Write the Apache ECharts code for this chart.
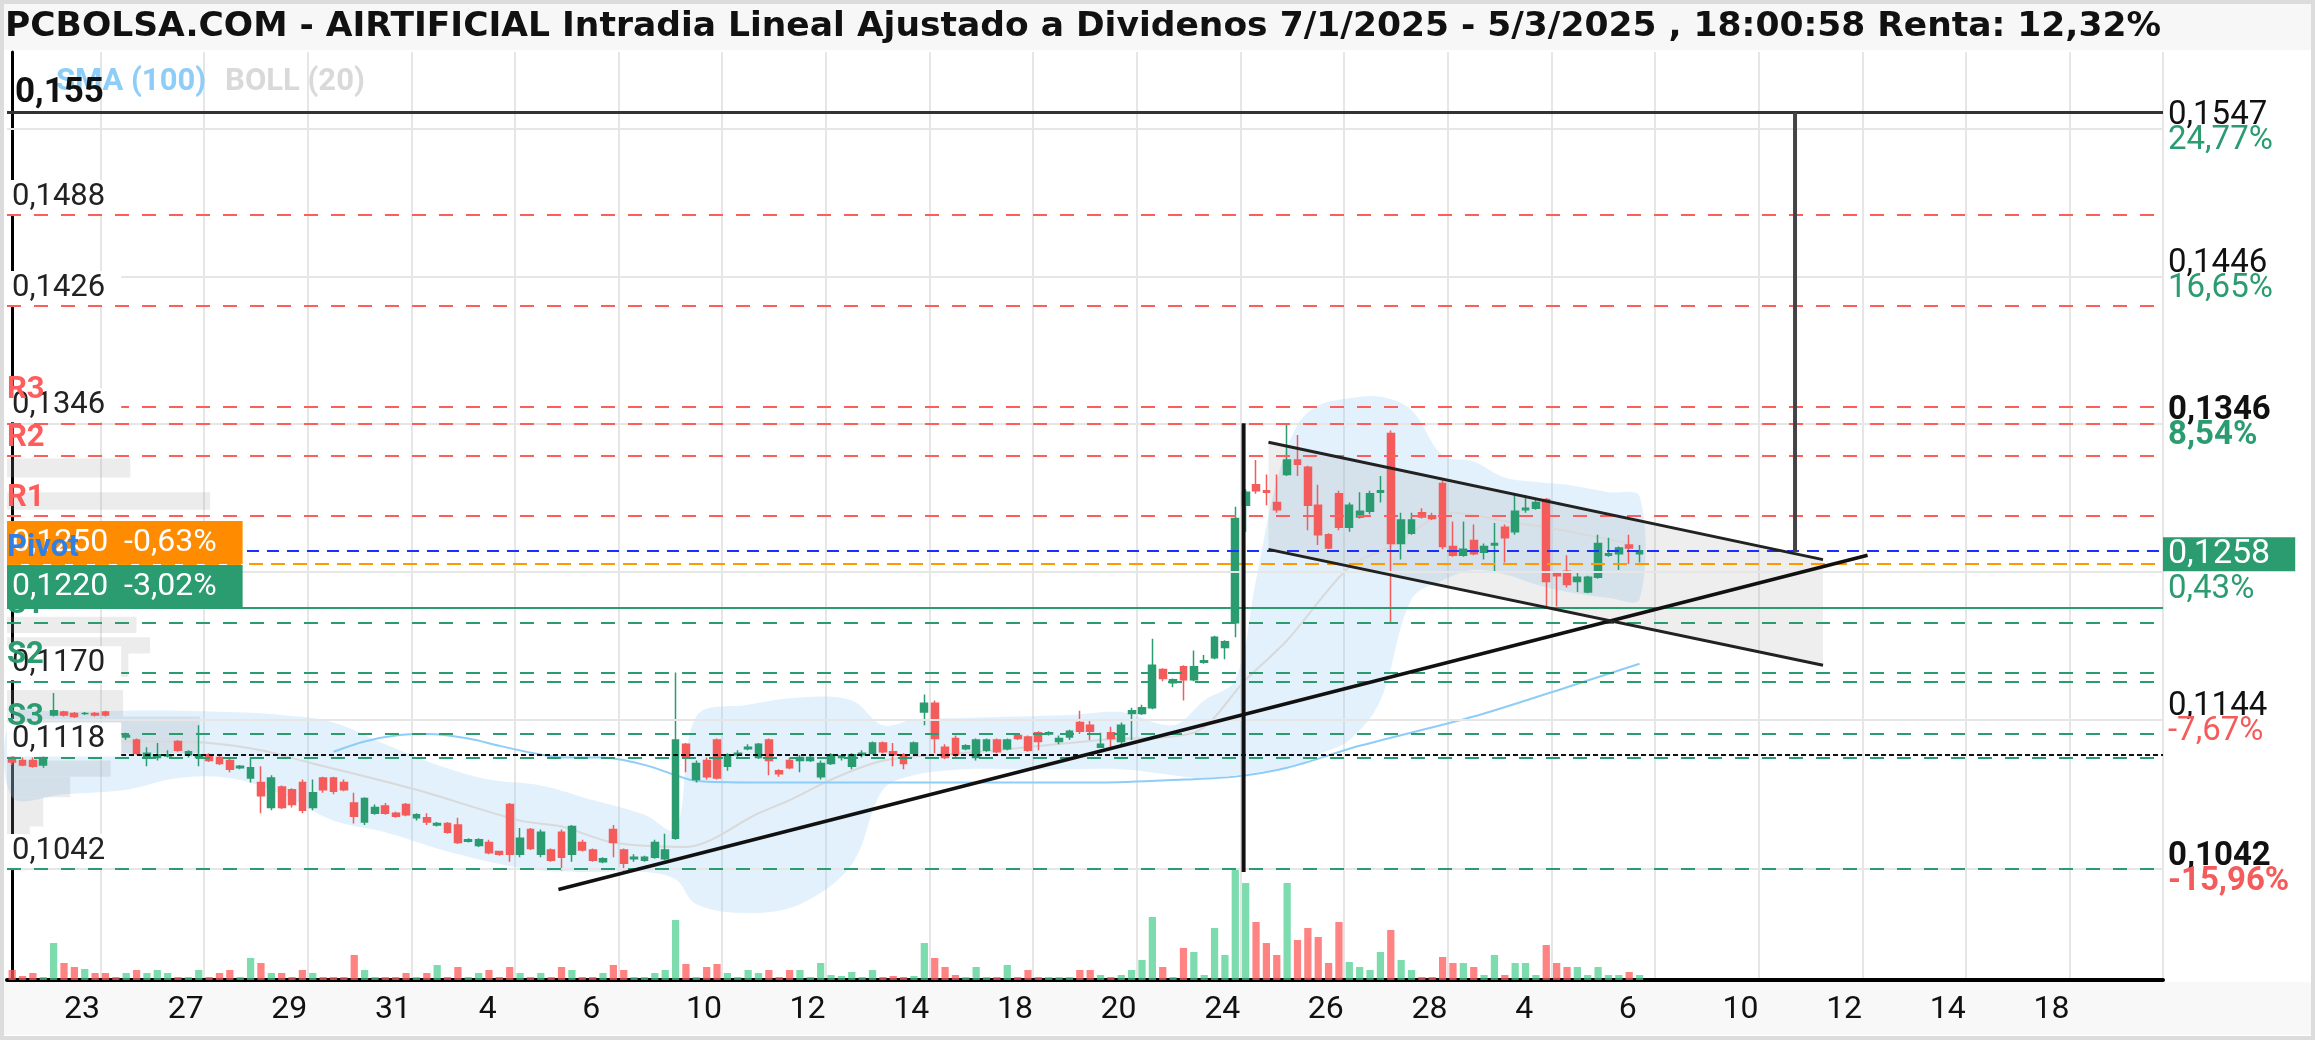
<!DOCTYPE html>
<html>
<head>
<meta charset="utf-8">
<title>AIRTIFICIAL intradia</title>
<script src="https://cdn.jsdelivr.net/npm/echarts@6/dist/echarts.min.js"></script>
<style>
html, body { margin: 0; padding: 0; background: #fff; }
#chart { width: 2315px; height: 1040px; }
</style>
</head>
<body>
<div id="chart"></div>
<script>
var chart = echarts.init(document.getElementById('chart'));

// 20 ticks, two sessions each, ~5 bars a session, plus the empty future part
var NSLOTS = 208;
var dayLabels = ['23', '27', '29', '31', '4', '6', '10', '12', '14', '18', '20', '24', '26', '28', '4', '6', '10', '12', '14', '18'];

// [open, close, low, high]
var candles = [
  [0.1118,0.1115,0.1113,0.1120],[0.1116,0.1113,0.1112,0.1118],[0.1116,0.1112,0.1111,0.1118],[0.1113,0.1118,0.1111,0.1119],
  [0.1147,0.1150,0.1146,0.1162],[0.1149,0.1147,0.1146,0.1150],[0.1148,0.1146,0.1145,0.1149],[0.1148,0.1148,0.1147,0.1149],
  [0.1148,0.1147,0.1146,0.1149],[0.1149,0.1147,0.1146,0.1150],[0.1140,0.1133,0.1132,0.1141],[0.1132,0.1133,0.1130,0.1135],
  [0.1130,0.1121,0.1120,0.1131],[0.1118,0.1121,0.1112,0.1125],[0.1118,0.1120,0.1116,0.1128],[0.1119,0.1120,0.1118,0.1123],
  [0.1129,0.1123,0.1122,0.1130],[0.1120,0.1122,0.1118,0.1123],[0.1118,0.1120,0.1112,0.1140],[0.1120,0.1116,0.1115,0.1121],
  [0.1118,0.1114,0.1113,0.1119],[0.1116,0.1110,0.1108,0.1118],[0.1111,0.1112,0.1110,0.1113],[0.1104,0.1111,0.1101,0.1118],
  [0.1101,0.1092,0.1080,0.1112],[0.1084,0.1104,0.1082,0.1106],[0.1098,0.1084,0.1083,0.1099],[0.1096,0.1086,0.1084,0.1097],
  [0.1101,0.1082,0.1080,0.1103],[0.1084,0.1094,0.1082,0.1103],[0.1104,0.1096,0.1094,0.1105],[0.1104,0.1095,0.1093,0.1105],
  [0.1101,0.1096,0.1095,0.1103],[0.1087,0.1078,0.1073,0.1094],[0.1074,0.1090,0.1072,0.1091],[0.1080,0.1084,0.1079,0.1086],
  [0.1085,0.1080,0.1079,0.1087],[0.1080,0.1078,0.1077,0.1081],[0.1086,0.1079,0.1078,0.1087],[0.1077,0.1079,0.1075,0.1080],
  [0.1077,0.1074,0.1072,0.1080],[0.1072,0.1073,0.1071,0.1074],[0.1073,0.1067,0.1066,0.1074],[0.1072,0.1060,0.1059,0.1077],
  [0.1061,0.1062,0.1060,0.1063],[0.1058,0.1062,0.1057,0.1063],[0.1060,0.1053,0.1052,0.1062],[0.1054,0.1052,0.1051,0.1054],
  [0.1086,0.1052,0.1047,0.1087],[0.1052,0.1063,0.1050,0.1070],[0.1069,0.1056,0.1055,0.1070],[0.1052,0.1067,0.1050,0.1069],
  [0.1055,0.1048,0.1047,0.1056],[0.1067,0.1050,0.1041,0.1069],[0.1052,0.1071,0.1047,0.1072],[0.1060,0.1055,0.1054,0.1062],
  [0.1055,0.1048,0.1047,0.1056],[0.1047,0.1049,0.1046,0.1050],[0.1069,0.1060,0.1050,0.1072],[0.1055,0.1046,0.1041,0.1056],
  [0.1049,0.1050,0.1047,0.1052],[0.1048,0.1050,0.1047,0.1051],[0.1050,0.1060,0.1049,0.1062],[0.1049,0.1055,0.1048,0.1066],
  [0.1063,0.1130,0.1062,0.1176],[0.1127,0.1118,0.1108,0.1128],[0.1103,0.1114,0.1101,0.1116],[0.1116,0.1105,0.1103,0.1118],
  [0.1130,0.1104,0.1103,0.1131],[0.1112,0.1120,0.1109,0.1121],[0.1120,0.1121,0.1118,0.1123],[0.1124,0.1125,0.1123,0.1127],
  [0.1118,0.1127,0.1117,0.1128],[0.1130,0.1116,0.1106,0.1131],[0.1109,0.1107,0.1105,0.1110],[0.1116,0.1111,0.1110,0.1118],
  [0.1116,0.1118,0.1108,0.1120],[0.1116,0.1118,0.1115,0.1120],[0.1105,0.1114,0.1103,0.1116],[0.1114,0.1120,0.1113,0.1121],
  [0.1118,0.1119,0.1116,0.1120],[0.1112,0.1120,0.1110,0.1121],[0.1120,0.1121,0.1118,0.1123],[0.1121,0.1128,0.1120,0.1129],
  [0.1128,0.1122,0.1121,0.1129],[0.1122,0.1120,0.1112,0.1128],[0.1120,0.1114,0.1110,0.1121],[0.1121,0.1128,0.1120,0.1129],
  [0.1149,0.1155,0.1140,0.1161],[0.1155,0.1131,0.1121,0.1157],[0.1125,0.1118,0.1117,0.1127],[0.1131,0.1120,0.1118,0.1133],
  [0.1124,0.1126,0.1123,0.1127],[0.1118,0.1130,0.1116,0.1131],[0.1123,0.1130,0.1122,0.1131],[0.1130,0.1122,0.1121,0.1131],
  [0.1124,0.1130,0.1123,0.1131],[0.1133,0.1131,0.1130,0.1133],[0.1132,0.1123,0.1122,0.1133],[0.1135,0.1129,0.1123,0.1136],
  [0.1134,0.1135,0.1133,0.1136],[0.1129,0.1131,0.1127,0.1133],[0.1132,0.1136,0.1130,0.1137],[0.1142,0.1136,0.1134,0.1150],
  [0.1140,0.1136,0.1130,0.1144],[0.1125,0.1127,0.1125,0.1135],[0.1135,0.1131,0.1125,0.1139],[0.1129,0.1140,0.1127,0.1142],
  [0.1148,0.1150,0.1130,0.1152],[0.1148,0.1152,0.1147,0.1154],[0.1152,0.1181,0.1151,0.1199],[0.1178,0.1172,0.1170,0.1179],
  [0.1169,0.1171,0.1166,0.1172],[0.1180,0.1171,0.1157,0.1181],[0.1171,0.1180,0.1170,0.1191],[0.1183,0.1184,0.1182,0.1188],
  [0.1186,0.1200,0.1185,0.1201],[0.1193,0.1197,0.1185,0.1198],[0.1210,0.1281,0.1200,0.1289],[0.1290,0.1299,0.1272,0.1301],
  [0.1304,0.1300,0.1298,0.1321],[0.1300,0.1299,0.1290,0.1311],[0.1292,0.1287,0.1285,0.1311],[0.1311,0.1321,0.1310,0.1345],
  [0.1321,0.1318,0.1310,0.1338],[0.1316,0.1290,0.1273,0.1317],[0.1290,0.1270,0.1263,0.1304],[0.1270,0.1261,0.1260,0.1271],
  [0.1298,0.1275,0.1273,0.1300],[0.1275,0.1290,0.1272,0.1292],[0.1282,0.1286,0.1281,0.1299],[0.1286,0.1298,0.1284,0.1300],
  [0.1299,0.1300,0.1292,0.1310],[0.1339,0.1264,0.1210,0.1341],[0.1264,0.1280,0.1253,0.1285],[0.1271,0.1280,0.1270,0.1285],
  [0.1285,0.1282,0.1281,0.1288],[0.1283,0.1281,0.1280,0.1285],[0.1305,0.1262,0.1260,0.1307],[0.1262,0.1256,0.1255,0.1279],
  [0.1256,0.1260,0.1255,0.1279],[0.1266,0.1257,0.1256,0.1277],[0.1258,0.1262,0.1253,0.1264],[0.1263,0.1264,0.1244,0.1278],
  [0.1275,0.1268,0.1251,0.1277],[0.1272,0.1286,0.1270,0.1298],[0.1287,0.1288,0.1285,0.1297],[0.1288,0.1292,0.1287,0.1294],
  [0.1294,0.1238,0.1221,0.1295],[0.1244,0.1242,0.1221,0.1245],[0.1245,0.1236,0.1234,0.1256],[0.1238,0.1241,0.1231,0.1244],
  [0.1231,0.1241,0.1230,0.1242],[0.1241,0.1264,0.1240,0.1270],[0.1256,0.1257,0.1255,0.1268],[0.1257,0.1261,0.1246,0.1262],
  [0.1263,0.1261,0.1250,0.1270],[0.1257,0.1259,0.1251,0.1263]
];

var volumes = [
  10,4,7,3,37,17,13,11,7,7,3,7,10,7,10,7,3,3,10,3,
  7,10,3,22,17,7,7,3,10,7,3,3,3,25,10,3,3,3,7,3,
  7,15,3,13,3,7,10,3,13,7,3,7,3,13,10,3,3,7,15,10,
  3,3,7,10,60,16,3,13,16,7,3,10,7,10,3,10,10,3,17,5,
  4,8,3,10,3,4,3,4,37,22,13,5,3,13,3,3,15,3,10,3,
  3,3,3,10,10,5,3,5,10,20,63,13,3,32,28,5,52,25,110,97,
  58,37,25,97,40,52,43,17,58,18,13,10,28,50,20,10,3,3,23,17,
  17,13,5,25,5,17,17,5,35,17,13,13,5,13,5,5,8,5
];

// Bollinger (20) envelope
var bandIdx   = [0,5,11,16,21,26,31,36,41,46,51,56,61,64,66,71,76,81,84,87,92,97,102,107,112,115,118,120,122,124,126,129,132,135,138,141,144,147,150,154,157];
var bandUpper = [0.1147,0.1149,0.1150,0.1150,0.1149,0.1147,0.1142,0.1127,0.1113,0.1103,0.1099,0.1089,0.1079,0.1069,0.1146,0.1154,0.1159,0.1157,0.1140,0.1144,0.1145,0.1146,0.1147,0.1149,0.1140,0.1157,0.1171,0.1239,0.1307,0.1345,0.1358,0.1363,0.1364,0.1355,0.1324,0.1320,0.1309,0.1306,0.1304,0.1299,0.1296];
var bandLower = [0.1091,0.1093,0.1096,0.1104,0.1104,0.1093,0.1075,0.1067,0.1056,0.1047,0.1041,0.1040,0.1040,0.1035,0.1018,0.1012,0.1018,0.1045,0.1096,0.1106,0.1110,0.1110,0.1110,0.1110,0.1106,0.1104,0.1106,0.1108,0.1110,0.1113,0.1120,0.1130,0.1157,0.1226,0.1239,0.1246,0.1243,0.1236,0.1231,0.1227,0.1226];
var bollIdx = [0,13,19,24,29,39,49,53,58,65,72,75,79,83,86,95,105,114,119,123,129,133,139,145,148,156];
var bollMid = [0.1127,0.1129,0.1128,0.1123,0.1114,0.1096,0.1075,0.1071,0.1060,0.1057,0.1080,0.1089,0.1103,0.1114,0.1118,0.1123,0.1130,0.1135,0.1171,0.1198,0.1248,0.1262,0.1285,0.1278,0.1275,0.1264];
var smaIdx = [31,34,37,40,44,47,51,53,57,61,64,66,72,79,94,105,113,118,123,130,141,150,157];
var smaVal = [0.1122,0.1129,0.1133,0.1134,0.1131,0.1126,0.1120,0.1118,0.1118,0.1113,0.1106,0.1102,0.1101,0.1101,0.1101,0.1101,0.1103,0.1105,0.1111,0.1126,0.1146,0.1166,0.1182];

// volume by price, left edge: [low, high, length in bars]
var profileRows = [
  [0.1309,0.1322,11.9],[0.1287,0.1299,19.6],[0.1203,0.1214,12.5],[0.1189,0.1200,13.8],
  [0.1173,0.1189,11.7],[0.1146,0.1164,11.2],[0.1121,0.1146,18.6],[0.1105,0.1116,10],
  [0.1091,0.1105,6.1],[0.1071,0.1091,3.5],[0.1055,0.1071,2.2],[0.1041,0.1055,2.0]
];

// hand drawn lines: [bar, price]
var supportLine  = [[52.7, 0.1028], [179.0, 0.1256]];
var wedgeTop     = [[121.2, 0.1333], [174.7, 0.1253]];
var wedgeBottom  = [[121.2, 0.1260], [174.7, 0.1181]];
var breakoutLine = [[118.8, 0.1346], [118.8, 0.1040]];
var targetLine   = [[172.0, 0.1558], [172.0, 0.1258]];

// horizontal levels
var levelValues = [0.1488, 0.1426, 0.1346, 0.1170, 0.1118, 0.1042];
var pivotNames  = ['R3', 'R2', 'R1', 'Pivot', 'S1', 'S2', 'S3'];
var pivotValues = [0.1357, 0.1324, 0.1283, 0.1259, 0.1210, 0.1176, 0.1134];
var topTarget = 0.1558;
var dottedLevel = 0.1120;
var lastClose = 0.1250, lastCloseChg = '-0,63%';
var stopLevel = 0.1220, stopChg = '-3,02%';
var lastPrice = 0.1258, lastPriceChg = '0,43%';
var gridValues = [0.1547, 0.1446, 0.1346, 0.1245, 0.1144, 0.1042];
var gridPct    = ['24,77%', '16,65%', '8,54%', '', '-7,67%', '-15,96%'];

var FONT = 'Roboto';
var UP = '#2b9b70', DOWN = '#f45b5b';
var RED_LINE = '#ff5c5c';

function fmt(v) { return v.toFixed(4).replace('.', ','); }

var slots = [];
for (var i = 0; i < NSLOTS; i++) slots.push(String(i));

// grid lines + right hand labels
var rightRich = {
  v:  { fontFamily: FONT, fontSize: 33, color: '#111', lineHeight: 25, padding: [0, 0, 0, 5] },
  vb: { fontFamily: FONT, fontSize: 33, color: '#111', lineHeight: 25, padding: [0, 0, 0, 5], fontWeight: 'bold' },
  g:  { fontFamily: FONT, fontSize: 33, color: UP, lineHeight: 25, padding: [0, 0, 0, 5] },
  gb: { fontFamily: FONT, fontSize: 33, color: UP, lineHeight: 25, padding: [0, 0, 0, 5], fontWeight: 'bold' },
  r:  { fontFamily: FONT, fontSize: 33, color: DOWN, lineHeight: 25, padding: [0, 0, 0, 5] },
  rb: { fontFamily: FONT, fontSize: 33, color: DOWN, lineHeight: 25, padding: [0, 0, 0, 5], fontWeight: 'bold' },
  gl: { fontFamily: FONT, fontSize: 33, color: UP, lineHeight: 28, padding: [0, 0, 0, 5] },
  box: { fontFamily: FONT, fontSize: 34, color: '#fff', backgroundColor: UP, lineHeight: 42, padding: [0, 25, 0, 5] }
};
var gridMarks = gridValues.map(function (v, k) {
  var bold = levelValues.indexOf(v) >= 0;
  var pct = gridPct[k];
  var key = pct.charAt(0) === '-' ? 'r' : 'g';
  return {
    yAxis: v,
    lineStyle: { color: '#e6e6e6', width: 2, type: 'solid' },
    label: {
      show: pct !== '', position: 'end', distance: 0,
      formatter: '{' + (bold ? 'vb' : 'v') + '|' + fmt(v) + '}\n{' + key + (bold ? 'b' : '') + '|' + pct + '}',
      rich: rightRich
    }
  };
});
gridMarks.push({
  yAxis: lastPrice,
  lineStyle: { color: 'rgba(0,0,0,0)', width: 0 },
  label: { show: true, position: 'end', distance: 0, padding: [32, 0, 0, 0],
    formatter: '{box|' + fmt(lastPrice) + '}\n{gl|' + lastPriceChg + '}', rich: rightRich }
});

// dashed levels
var levelMarks = [];
levelValues.forEach(function (v) {
  levelMarks.push({
    yAxis: v,
    lineStyle: { color: v > lastPrice ? RED_LINE : UP, type: [14, 13], width: 2 },
    label: { show: true, position: 'insideStartTop', distance: [0, 1], formatter: fmt(v),
      fontFamily: FONT, fontSize: 31, color: '#222', backgroundColor: '#fff',
      padding: [1, 16, 1, 5], lineHeight: 32 }
  });
});
pivotNames.forEach(function (name, k) {
  if (name === 'Pivot') return;
  var col = name.charAt(0) === 'R' ? RED_LINE : UP;
  levelMarks.push({
    yAxis: pivotValues[k],
    lineStyle: { color: col, type: [14, 13], width: 2 },
    label: { show: true, position: 'insideStartTop', distance: [0, 1], formatter: name,
      fontFamily: FONT, fontSize: 31, fontWeight: 'bold', color: col, lineHeight: 32 }
  });
});
levelMarks.push({
  yAxis: topTarget,
  lineStyle: { color: '#333', width: 3, type: 'solid' },
  label: { show: true, position: 'insideStartTop', distance: [8, 2], formatter: '0,155',
    fontFamily: FONT, fontSize: 35, fontWeight: 'bold', color: '#111', lineHeight: 34 }
});
levelMarks.push([
  { coord: [10.5, dottedLevel], lineStyle: { color: '#111', type: [5, 3], width: 2 }, label: { show: false } },
  { coord: [NSLOTS - 0.5, dottedLevel] }
]);

var boxMarks = [
  { yAxis: lastClose,
    lineStyle: { color: '#ff9900', type: [14, 8], width: 2 },
    label: { show: true, position: 'insideStartTop', distance: [0, 0],
      formatter: fmt(lastClose) + '  ' + lastCloseChg, fontFamily: FONT, fontSize: 32, color: '#fff',
      backgroundColor: '#ff8c00', lineHeight: 35, padding: [4, 26, 4, 5] } },
  { yAxis: stopLevel,
    lineStyle: { color: UP, type: 'solid', width: 2 },
    label: { show: true, position: 'insideStartTop', distance: [0, 0],
      formatter: fmt(stopLevel) + '  ' + stopChg, fontFamily: FONT, fontSize: 32, color: '#fff',
      backgroundColor: UP, lineHeight: 35, padding: [4, 26, 4, 5] } }
];
var pivotMark = [{
  yAxis: pivotValues[pivotNames.indexOf('Pivot')],
  lineStyle: { color: '#1b2fff', type: [12, 8], width: 2 },
  label: { show: true, position: 'insideStartTop', distance: [0, -13], formatter: 'Pivot',
    fontFamily: FONT, fontSize: 31, fontWeight: 'bold', color: '#2f7fe6', lineHeight: 32 }
}];

function markSeries(name, marks, z) {
  return { type: 'line', name: name, xAxisIndex: 1, yAxisIndex: 0, data: [], z: z, silent: true,
    markLine: { symbol: ['none', 'none'], precision: 6, silent: true, animation: false, data: marks } };
}
function drawn(name, pts, width, color) {
  return { type: 'line', name: name, xAxisIndex: 1, yAxisIndex: 0, data: pts, symbol: 'none', z: 6,
    silent: true, lineStyle: { color: color, width: width } };
}

var option = {
  animation: false,
  backgroundColor: '#fff',
  title: {
    text: 'PCBOLSA.COM - AIRTIFICIAL Intradia Lineal Ajustado a Dividenos 7/1/2025 - 5/3/2025 , 18:00:58 Renta: 12,32%',
    left: 0, top: 5,
    textStyle: { fontFamily: 'DejaVu Sans', fontSize: 34.5, fontWeight: 'bold', color: '#111' }
  },
  legend: {
    left: 46, top: 62, icon: 'none', itemWidth: 0, itemGap: 14, selectedMode: false,
    textStyle: { fontFamily: FONT, fontSize: 31, fontWeight: 'bold' },
    data: [
      { name: 'SMA (100)', textStyle: { color: '#8ecdf7' } },
      { name: 'BOLL (20)', textStyle: { color: '#d9d9d9' } }
    ]
  },
  graphic: [
    { type: 'rect', z: -10, shape: { x: 4, y: 4, width: 2307, height: 46 }, style: { fill: '#f7f7f7' } },
    { type: 'rect', z: -10, shape: { x: 4, y: 982, width: 2307, height: 53 }, style: { fill: '#f8f8f8' } },
    { type: 'rect', z: -10, shape: { x: 2, y: 2, width: 2311, height: 1036 }, style: { fill: 'none', stroke: '#dcdcdc', lineWidth: 4 } }
  ],
  grid: [
    { left: 7, right: 152, top: 52, bottom: 60 },
    { left: 7, right: 152, top: 830, bottom: 60 }
  ],
  xAxis: [
    { type: 'category', gridIndex: 0, data: slots, boundaryGap: true,
      axisLine: { lineStyle: { color: '#000', width: 4 } },
      axisTick: { show: false },
      axisLabel: {
        interval: function (idx) { return idx % 10 === 5; },
        formatter: function (v, idx) { return dayLabels[(idx - 5) / 10] || ''; },
        align: 'left', margin: 14, fontFamily: FONT, fontSize: 32, color: '#111'
      },
      splitLine: { show: true, interval: function (idx) { return idx % 10 === 9; },
        lineStyle: { color: '#e6e6e6', width: 2 } } },
    { type: 'value', gridIndex: 0, min: -0.5, max: NSLOTS - 0.5, show: false },
    { type: 'category', gridIndex: 1, data: slots, boundaryGap: true, show: false }
  ],
  yAxis: [
    { type: 'value', gridIndex: 0, min: 0.09663, max: 0.15992, position: 'right',
      axisLine: { show: true, lineStyle: { color: '#000', width: 3 } },
      axisTick: { show: false }, axisLabel: { show: false }, splitLine: { show: false } },
    { type: 'value', gridIndex: 1, min: 0, max: 150, show: false }
  ],
  series: [
    { type: 'custom', name: 'band', xAxisIndex: 1, yAxisIndex: 0, z: 1, silent: true,
      data: bandIdx.map(function (x, k) { return [x, bandUpper[k], bandLower[k]]; }),
      encode: { x: 0, y: 1 },
      renderItem: function (params, api) {
        if (params.dataIndex !== 0) return;
        var top = [], bottom = [];
        for (var k = 0; k < bandIdx.length; k++) {
          top.push(api.coord([bandIdx[k], bandUpper[k]]));
          bottom.unshift(api.coord([bandIdx[k], bandLower[k]]));
        }
        return { type: 'polygon', shape: { points: top.concat(bottom), smooth: 0.35 },
          style: { fill: 'rgba(150,205,245,0.28)' } };
      } },
    { type: 'custom', name: 'wedge', xAxisIndex: 1, yAxisIndex: 0, z: 1, silent: true,
      data: [wedgeTop[0]], encode: { x: 0, y: 1 },
      renderItem: function (params, api) {
        var pts = [wedgeTop[0], wedgeTop[1], wedgeBottom[1], wedgeBottom[0]].map(function (p) { return api.coord(p); });
        return { type: 'polygon', shape: { points: pts }, style: { fill: 'rgba(170,170,170,0.2)' } };
      } },
    { type: 'custom', name: 'profile', xAxisIndex: 1, yAxisIndex: 0, z: 1, silent: true,
      data: profileRows, encode: { x: 2, y: 1 },
      renderItem: function (params, api) {
        var a = api.coord([-0.5, api.value(1)]);
        var b = api.coord([-0.5 + api.value(2), api.value(0)]);
        return { type: 'rect', shape: { x: a[0], y: a[1], width: b[0] - a[0], height: b[1] - a[1] },
          style: { fill: 'rgba(160,160,160,0.2)' } };
      } },
    markSeries('grid', gridMarks, 1),
    { type: 'line', name: 'BOLL (20)', xAxisIndex: 1, yAxisIndex: 0, z: 2, symbol: 'none', smooth: 0.3, silent: true,
      data: bollIdx.map(function (x, k) { return [x, bollMid[k]]; }),
      lineStyle: { color: '#d9d9d9', width: 2 }, itemStyle: { color: '#d9d9d9' } },
    { type: 'line', name: 'SMA (100)', xAxisIndex: 1, yAxisIndex: 0, z: 2, symbol: 'none', smooth: 0.3, silent: true,
      data: smaIdx.map(function (x, k) { return [x, smaVal[k]]; }),
      lineStyle: { color: '#8ecdf7', width: 2 }, itemStyle: { color: '#8ecdf7' } },
    { type: 'bar', name: 'volume', xAxisIndex: 2, yAxisIndex: 1, barWidth: '70%', z: 2, silent: true,
      data: volumes.map(function (v, k) {
        var up = candles[k][1] >= candles[k][0];
        return { value: v, itemStyle: { color: up ? 'rgba(70,205,140,0.7)' : 'rgba(255,90,90,0.75)' } };
      }) },
    { type: 'candlestick', name: 'AIRTIFICIAL', xAxisIndex: 0, yAxisIndex: 0, z: 3, barWidth: '70%', silent: true,
      data: candles,
      itemStyle: { color: UP, color0: DOWN, borderColor: UP, borderColor0: DOWN, borderWidth: 1.5 } },
    markSeries('levels', levelMarks, 4),
    markSeries('boxes', boxMarks, 5),
    markSeries('pivot', pivotMark, 6),
    drawn('support', supportLine, 3.5, '#111'),
    drawn('wedgeTop', wedgeTop, 3, '#222'),
    drawn('wedgeBottom', wedgeBottom, 3, '#222'),
    drawn('breakout', breakoutLine, 4, '#111'),
    drawn('target', targetLine, 4, '#444')
  ]
};
chart.setOption(option);
</script>
</body>
</html>
